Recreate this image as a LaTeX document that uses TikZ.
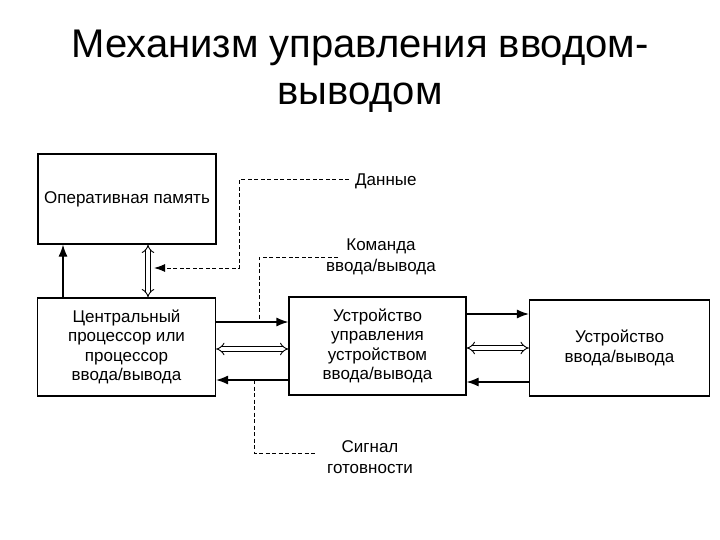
\documentclass[tikz,border=0pt]{standalone}
\usepackage{fontspec}
\setmainfont{Liberation Sans}
\usetikzlibrary{arrows.meta, calc, positioning}

\begin{document}
\begin{tikzpicture}[x=1pt,y=-1pt,
		box/.style={draw,line width=1.2pt,align=center,inner sep=0pt,
			font=\fontsize{17}{19.5}\selectfont},
		lbl/.style={align=center,inner sep=0pt,font=\fontsize{17}{21}\selectfont},
		arr/.style={line width=1.2pt,-{Latex[length=12pt,width=9pt]}},
		dbl/.style={double,line width=0.9pt,double distance=3.5pt,{Implies}-{Implies}},
		dsh/.style={line width=1pt,dash pattern=on 4pt off 2.5pt}]
	\useasboundingbox (0,0) rectangle (720,540);
	% title
	\node (title) [align=center,font=\fontsize{40}{47}\selectfont] at (360,71)
		{Механизм управления вводом-\\выводом};
	% blocks
	\node (mem) [box,minimum width=178pt,minimum height=90pt] at (127,199) {Оперативная память};
	\node (cpu) [box,minimum width=178pt,minimum height=98pt] at (126.5,347)
		{Центральный\\процессор или\\процессор\\ввода/вывода};
	\node (ctl) [box,minimum width=177pt,minimum height=98pt] at (377.5,346)
		{Устройство\\управления\\устройством\\ввода/вывода};
	\node (dev) [box,minimum width=180pt,minimum height=96pt] at (619.5,348)
		{Устройство\\ввода/вывода};
	% labels
	\node (data) [lbl,anchor=west] at (355,181) {Данные};
	\node (cmd) [lbl] at (381,257) {Команда\\ввода/вывода};
	\node (sig) [lbl] at (370,457) {Сигнал\\готовности};
	\coordinate (dstart) at (349,180);
	\coordinate (dtip) at (154,268);
	\coordinate (cmdend) at (338,257);
	\coordinate (sigend) at (315,453);
	% memory bus
	\draw[arr] (cpu.north -| 63,0) -- (mem.south -| 63,0);
	\draw[dbl] (mem.south -| 148,0) -- (cpu.north -| 148,0);
	% cpu <-> controller
	\draw[arr] (cpu.east |- 0,322) -- (ctl.west |- 0,322);
	\draw[dbl] (cpu.east |- 0,349) -- (ctl.west |- 0,349);
	\draw[arr] (ctl.west |- 0,380) -- (cpu.east |- 0,380);
	% controller <-> device
	\draw[arr] (ctl.east |- 0,314) -- (dev.west |- 0,314);
	\draw[dbl] (ctl.east |- 0,348) -- (dev.west |- 0,348);
	\draw[arr] (dev.west |- 0,382) -- (ctl.east |- 0,382);
	% dashed leaders
	\draw[dsh,-{Latex[length=11pt,width=8pt]}] (dstart) -| (239,268) -- (dtip);
	\draw[dsh] (cmdend) -| (259,322);
	\draw[dsh] (254,380) |- (sigend);
\end{tikzpicture}
\end{document}
